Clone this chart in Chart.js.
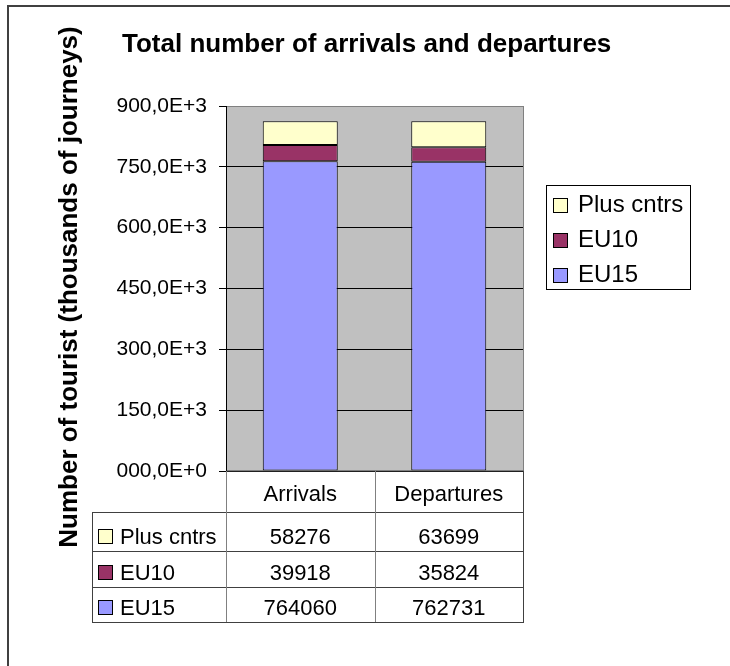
<!DOCTYPE html>
<html>
<head>
<meta charset="utf-8">
<script src="https://cdn.jsdelivr.net/npm/chart.js@4.4.1/dist/chart.umd.min.js"></script>
<style>
  body { margin: 0; background: #fff; }
  #wrap { width: 730px; height: 666px; }
</style>
</head>
<body>
<div id="wrap"><canvas id="tourChart" width="730" height="666"></canvas></div>
<script>
// data
const categories = ['Arrivals', 'Departures'];
const seriesNames = ['EU15', 'EU10', 'Plus cntrs'];
const eu15 = [764060, 762731];
const eu10 = [39918, 35824];
const plusCntrs = [58276, 63699];
const tickLabels = ['000,0E+0', '150,0E+3', '300,0E+3', '450,0E+3', '600,0E+3', '750,0E+3', '900,0E+3'];
const seriesColors = ['#9999FF', '#993366', '#FFFFCC'];

const FONT = '"Liberation Sans", Arial, sans-serif';

// fond gris, bordures, titres, legende et tableau de donnees
const decorPlugin = {
  id: 'decor',
  beforeDraw(chart) {
    const c = chart.ctx, a = chart.chartArea;
    c.save();
    c.fillStyle = '#C0C0C0';
    c.fillRect(a.left, a.top, a.right - a.left, a.bottom - a.top);
    c.restore();
  },
  afterDraw(chart) {
    const c = chart.ctx, a = chart.chartArea;
    const xs = chart.scales.x;
    const sets = chart.data.datasets;
    c.save();

    // cadre exterieur
    c.strokeStyle = '#404040';
    c.lineWidth = 2;
    c.beginPath();
    c.moveTo(8, 666); c.lineTo(8, 6); c.lineTo(730, 6);
    c.stroke();

    // bord droit gris
    c.strokeStyle = '#808080';
    c.lineWidth = 1;
    c.beginPath();
    c.moveTo(Math.round(a.right) + 0.5, a.top);
    c.lineTo(Math.round(a.right) + 0.5, a.bottom);
    c.stroke();

    // titre
    c.fillStyle = '#000';
    c.font = 'bold 26px ' + FONT;
    c.textAlign = 'left';
    c.textBaseline = 'alphabetic';
    c.fillText('Total number of arrivals and departures', 122, 52);

    // titre axe Y
    c.save();
    c.translate(77, 287);
    c.rotate(-Math.PI / 2);
    c.textAlign = 'center';
    c.fillText('Number of tourist (thousands of journeys)', 0, 0);
    c.restore();

    // legende
    c.fillStyle = '#fff';
    c.fillRect(546, 185, 145, 105);
    c.strokeStyle = '#000';
    c.strokeRect(546.5, 185.5, 144, 104);
    c.font = '24px ' + FONT;
    c.textAlign = 'left';
    for (let k = 0; k < 3; k++) {
      const ds = sets[2 - k];
      const base = 212 + k * 35;
      c.fillStyle = ds.backgroundColor;
      c.fillRect(553, base - 14, 15, 15);
      c.strokeStyle = '#000';
      c.strokeRect(553.5, base - 13.5, 14, 14);
      c.fillStyle = '#000';
      c.fillText(ds.label, 578, base);
    }

    // tableau de donnees
    const n = categories.length;
    const colW = (a.right - a.left) / n;
    const tLeft = 92, tRight = Math.round(a.right) + 0.5;
    const rowLines = [512, 551, 587, 622];
    const baselines = [544, 580, 615];

    c.strokeStyle = '#404040';
    c.lineWidth = 1;
    c.beginPath();
    c.moveTo(Math.round(a.left) + 0.5, a.bottom);
    c.lineTo(tRight, a.bottom);
    rowLines.forEach(y => { c.moveTo(tLeft, y + 0.5); c.lineTo(tRight, y + 0.5); });
    c.moveTo(tLeft + 0.5, rowLines[0]);
    c.lineTo(tLeft + 0.5, rowLines[3] + 1);
    c.moveTo(tRight, a.bottom);
    c.lineTo(tRight, rowLines[3] + 1);
    c.stroke();

    c.strokeStyle = '#808080';
    c.beginPath();
    for (let i = 0; i < n; i++) {
      const x = Math.round(a.left + i * colW) + 0.5;
      c.moveTo(x, a.bottom);
      c.lineTo(x, rowLines[3]);
    }
    c.stroke();

    c.fillStyle = '#000';
    c.font = '22px ' + FONT;
    c.textAlign = 'center';
    categories.forEach((cat, i) => {
      c.fillText(cat, xs.getPixelForValue(i), 501);
    });
    for (let k = 0; k < 3; k++) {
      const ds = sets[2 - k];
      const base = baselines[k];
      c.fillStyle = ds.backgroundColor;
      c.fillRect(98, base - 15, 15, 15);
      c.strokeStyle = '#000';
      c.strokeRect(98.5, base - 14.5, 14, 14);
      c.fillStyle = '#000';
      c.textAlign = 'left';
      c.fillText(ds.label, 120, base);
      c.textAlign = 'center';
      ds.data.forEach((v, i) => {
        c.fillText(String(v), xs.getPixelForValue(i), base);
      });
    }
    c.restore();
  }
};

const ctx = document.getElementById('tourChart').getContext('2d');

const tourChart = new Chart(ctx, {
  type: 'bar',
  data: {
    labels: categories,
    datasets: [
      { label: seriesNames[0], data: eu15, backgroundColor: seriesColors[0] },
      { label: seriesNames[1], data: eu10, backgroundColor: seriesColors[1] },
      { label: seriesNames[2], data: plusCntrs, backgroundColor: seriesColors[2] }
    ]
  },
  options: {
    responsive: false,
    animation: false,
    layout: { padding: { left: 0, top: 106, right: 207, bottom: 195 } },
    datasets: {
      bar: {
        borderColor: '#000',
        borderWidth: 1,
        borderSkipped: false,
        barPercentage: 0.505,
        categoryPercentage: 1
      }
    },
    scales: {
      x: {
        stacked: true,
        grid: { display: false },
        ticks: { display: false },
        border: { color: '#000', width: 1 },
        afterFit(s) { s.height = 0; }
      },
      y: {
        stacked: true,
        min: 0,
        max: 900000,
        afterFit(s) { s.width = 226; },
        ticks: {
          stepSize: 150000,
          padding: 12,
          color: '#000',
          font: { family: FONT, size: 21 },
          callback: (v, i) => tickLabels[i]
        },
        grid: {
          color: c => (c.tick && c.tick.value === 900000 ? '#808080' : (c.tick && c.tick.value === 0 ? 'rgba(0,0,0,0)' : '#000')),
          tickColor: '#000',
          tickLength: 7
        },
        border: { color: '#000', width: 1 }
      }
    },
    plugins: {
      legend: { display: false },
      tooltip: { enabled: false }
    }
  },
  plugins: [decorPlugin]
});
</script>
</body>
</html>
